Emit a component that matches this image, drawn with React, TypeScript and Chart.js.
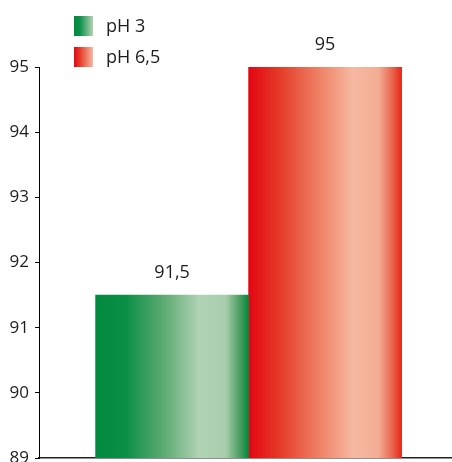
import { useEffect, useRef } from 'react';
import { Chart, registerables } from 'chart.js';

Chart.register(...registerables);

// Series and axis values
const seriesLabels = ['pH 3', 'pH 6,5'];
const seriesValues = [91.5, 95];
const axisMin = 89;
const axisMax = 95;
const axisStep = 1;

const FONT = '"Open Sans", "Noto Sans", sans-serif';
const INK = '#1d1d1b';

// Horizontal shading across each bar: deep edge, pale band, deep edge again
const barStops: [number, string][][] = [
  [[0, '#008a3e'], [0.2, '#0c8f47'], [0.45, '#5eab73'], [0.68, '#b1d3b5'], [0.85, '#a8cdad'], [0.94, '#4e9f64'], [1, '#008a3e']],
  [[0, '#e30613'], [0.2, '#e53a28'], [0.45, '#ee7e62'], [0.68, '#f6b9a1'], [0.85, '#f3ac94'], [0.94, '#e9644b'], [1, '#e3261a']],
];
const legendStops: [number, string][][] = [
  [[0, '#008a3e'], [0.3, '#0c8f47'], [1, '#b1d3b5']],
  [[0, '#e30613'], [0.3, '#e53a28'], [1, '#f6b9a1']],
];

const makeGradient = (ctx: CanvasRenderingContext2D, x0: number, x1: number, stops: [number, string][]) => {
  const g = ctx.createLinearGradient(x0, 0, x1, 0);
  stops.forEach(([o, c]) => g.addColorStop(o, c));
  return g;
};

const formatValue = (v: number) => String(v).replace('.', ',');

// Paints each bar with its own gradient, based on the bar's laid-out geometry
const barShading = {
  id: 'barShading',
  beforeDatasetsDraw(chart: any) {
    const ctx = chart.ctx;
    chart.data.datasets.forEach((_: any, i: number) => {
      chart.getDatasetMeta(i).data.forEach((el: any) => {
        const { x, width } = el.getProps(['x', 'width'], true);
        const g = makeGradient(ctx, x - width / 2, x + width / 2, barStops[i]);
        el.options = { ...el.options, backgroundColor: g };
      });
    });
  },
};

// Value written above each bar
const valueLabels = {
  id: 'valueLabels',
  afterDatasetsDraw(chart: any) {
    const ctx = chart.ctx;
    ctx.save();
    ctx.font = `18px ${FONT}`;
    ctx.fillStyle = INK;
    ctx.textAlign = 'center';
    ctx.textBaseline = 'alphabetic';
    chart.data.datasets.forEach((ds: any, i: number) => {
      chart.getDatasetMeta(i).data.forEach((el: any, j: number) => {
        const { x, y } = el.getProps(['x', 'y'], true);
        ctx.fillText(formatValue(ds.data[j].y), x, y - 17);
      });
    });
    ctx.restore();
  },
};

// Legend with shaded swatches, stacked in the top-left corner
const shadedLegend = {
  id: 'shadedLegend',
  afterDraw(chart: any) {
    const ctx = chart.ctx;
    ctx.save();
    ctx.font = `18px ${FONT}`;
    ctx.fillStyle = INK;
    ctx.textAlign = 'left';
    ctx.textBaseline = 'alphabetic';
    chart.data.datasets.forEach((ds: any, i: number) => {
      const bx = 74;
      const by = 16 + i * 31;
      ctx.fillStyle = makeGradient(ctx, bx, bx + 19, legendStops[i]);
      ctx.fillRect(bx, by, 19, 20);
      ctx.fillStyle = INK;
      ctx.fillText(ds.label, 106, by + 16.3);
    });
    ctx.restore();
  },
};

export default function App() {
  const canvasRef = useRef<HTMLCanvasElement | null>(null);

  useEffect(() => {
    const canvas = canvasRef.current;
    if (!canvas) return;
    const chart = new Chart(canvas, {
      type: 'bar',
      data: {
        datasets: seriesLabels.map((label, i) => ({
          label,
          data: [{ x: 0, y: seriesValues[i] }],
          backgroundColor: barStops[i][0][1],
          borderWidth: 0,
          barThickness: 153,
        })),
      },
      options: {
        responsive: false,
        animation: false,
        layout: { padding: { top: 67, bottom: 4, left: 0, right: 0 } },
        plugins: {
          legend: { display: false },
          tooltip: { enabled: false },
        },
        scales: {
          x: {
            type: 'linear',
            min: -1,
            max: 0.967,
            ticks: { display: false },
            grid: { display: false },
            border: { display: true, color: '#222', width: 1.5 },
            afterFit: (s: any) => {
              s.height = 0;
            },
          },
          y: {
            min: axisMin,
            max: axisMax,
            ticks: {
              stepSize: axisStep,
              color: INK,
              padding: 6,
              font: { family: FONT, size: 17 },
            },
            grid: {
              drawOnChartArea: false,
              drawTicks: true,
              tickLength: 4,
              color: '#000',
              lineWidth: 1,
            },
            border: { display: true, color: '#000', width: 1 },
            afterFit: (s: any) => {
              s.width = 39;
              s.paddingTop = 0;
              s.paddingBottom = 0;
            },
          },
        },
      },
      plugins: [barShading, valueLabels, shadedLegend],
    } as any);
    return () => chart.destroy();
  }, []);

  return (
    <div style={{ position: 'absolute', left: 0, top: 0, width: 452, height: 462, background: '#fff' }}>
      <canvas ref={canvasRef} width={452} height={462} style={{ display: 'block' }} />
    </div>
  );
}
